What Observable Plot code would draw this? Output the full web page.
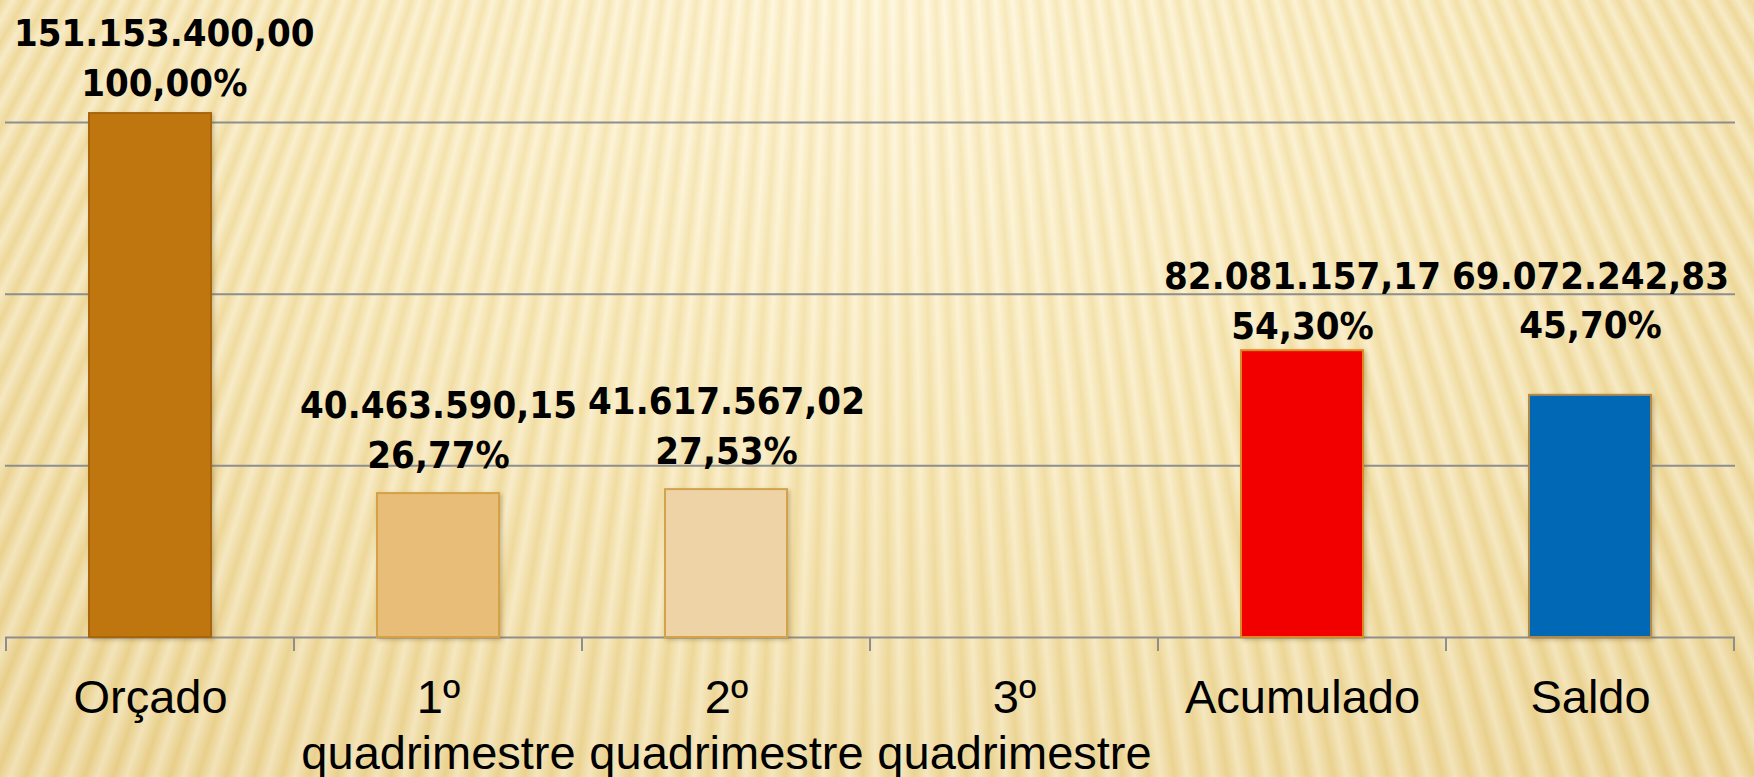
<!DOCTYPE html>
<html>
<head>
<meta charset="utf-8">
<script src="https://cdn.jsdelivr.net/npm/d3@7"></script>
<script src="https://cdn.jsdelivr.net/npm/@observablehq/plot@0.6"></script>
<style>
html, body { margin: 0; padding: 0; }
body {
  width: 1754px; height: 777px; overflow: hidden;
  background:
    repeating-conic-gradient(from 0deg at 50% -1500px,
      rgba(255,255,255,0.34) 0deg, rgba(205,165,60,0.12) 0.3deg, rgba(255,255,255,0.34) 0.65deg),
    radial-gradient(ellipse 75% 120% at 50% 0%, #fff5d4 0%, #f8e8b6 45%, #ebd392 100%);
}
#chart svg g[aria-label="text"] { font-stretch: condensed; }
#chart svg g[aria-label="x-axis tick label"] { font-family: "Liberation Sans", Arial, sans-serif; }
#chart svg g[aria-label="bar"] rect { filter: drop-shadow(2px 2px 2px rgba(120,90,30,0.35)); }
</style>
</head>
<body>
<div id="chart"></div>
<script>
// ---- data ----
const categories = ["Orçado", "1º quadrimestre", "2º quadrimestre", "3º quadrimestre", "Acumulado", "Saldo"];
const tickLabels = ["Orçado", "1º\nquadrimestre", "2º\nquadrimestre", "3º\nquadrimestre", "Acumulado", "Saldo"];
const values = [151153400.00, 40463590.15, 41617567.02, null, 82081157.17, 69072242.83];
const percents = [100.00, 26.77, 27.53, null, 54.30, 45.70];
const gridValues = [0, 50000000, 100000000, 150000000];
// ---- styles ----
const barFills = ["#c0760f", "#e8bd78", "#edd3a5", "#cccccc", "#f20000", "#0068b5"];
const barEdges = ["#a9650b", "#d6a146", "#d3a34c", "#999999", "#d98a22", "#b3894a"];
// label offsets above bar tops (the original labels were placed by hand)
const labelGroups = [
  {cats: ["Orçado"], dy: -23},
  {cats: ["1º quadrimestre", "2º quadrimestre"], dy: -31},
  {cats: ["Acumulado"], dy: -17},
  {cats: ["Saldo"], dy: -62}
];

const loc = d3.formatLocale({decimal: ",", thousands: ".", grouping: [3], currency: ["R$", ""]});
const fmtVal = loc.format(",.2f");
const fmtPct = loc.format(".2f");

const rows = categories.map((c, i) => ({cat: c, value: values[i], pct: percents[i], fill: barFills[i], edge: barEdges[i]}))
  .filter(d => d.value != null);

const labelMarks = labelGroups.map(g => Plot.text(rows.filter(d => g.cats.includes(d.cat)), {
  x: "cat", y: "value",
  text: d => fmtVal(d.value) + "\n" + fmtPct(d.pct) + "%",
  lineAnchor: "bottom", dy: g.dy, lineHeight: 1.3,
  fontSize: 38, fontWeight: "bold", fill: "#000",
  fontFamily: '"DejaVu Sans Condensed", "DejaVu Sans", sans-serif'
}));

const chart = Plot.plot({
  width: 1754,
  height: 777,
  marginLeft: 5,
  marginRight: 19,
  marginTop: 122,
  marginBottom: 140,
  style: {background: "transparent", overflow: "visible", color: "#000", fontFamily: '"Liberation Sans", Arial, sans-serif'},
  x: {domain: categories, paddingInner: 0.576, paddingOuter: 0.288, axis: null, label: null},
  y: {domain: [0, 150000000], axis: null, label: null},
  color: {type: "identity"},
  marks: [
    Plot.ruleY(gridValues, {stroke: "#8e8e8e", strokeWidth: 2}),
    Plot.barY(rows, {x: "cat", y: "value", fill: "fill", stroke: "edge", strokeWidth: 2, insetTop: -5}),
    ...labelMarks,
    Plot.axisX({
      label: null,
      tickSize: 0, tickPadding: 35, fontSize: 47, lineHeight: 1.2,
      fontFamily: '"Liberation Sans", Arial, sans-serif', fill: "#000",
      tickFormat: d => tickLabels[categories.indexOf(d)]
    })
  ]
});

document.getElementById("chart").appendChild(chart);

// category boundary tick marks, from the band scale
const xs = chart.scale("x");
const ys = chart.scale("y");
const gap = (xs.step - xs.bandwidth) / 2;
const bounds = categories.map(c => xs.apply(c) - gap);
bounds.push(xs.apply(categories[categories.length - 1]) + xs.bandwidth + gap);
const y0 = ys.apply(0);
d3.select(chart).append("g")
  .attr("stroke", "#8e8e8e").attr("stroke-width", 2)
  .selectAll("line").data(bounds).join("line")
  .attr("x1", d => d).attr("x2", d => d)
  .attr("y1", y0).attr("y2", y0 + 14);

// keep value labels inside the chart area (as the original does)
d3.select(chart).selectAll('g[aria-label="text"] text').each(function () {
  const b = this.getBBox();
  const ctm = this.getCTM();
  const left = b.x + (ctm ? ctm.e : 0);
  if (left < 14) {
    const t = this.getAttribute("transform") || "";
    this.setAttribute("transform", t + ` translate(${14 - left},0)`);
  }
});
</script>
</body>
</html>
